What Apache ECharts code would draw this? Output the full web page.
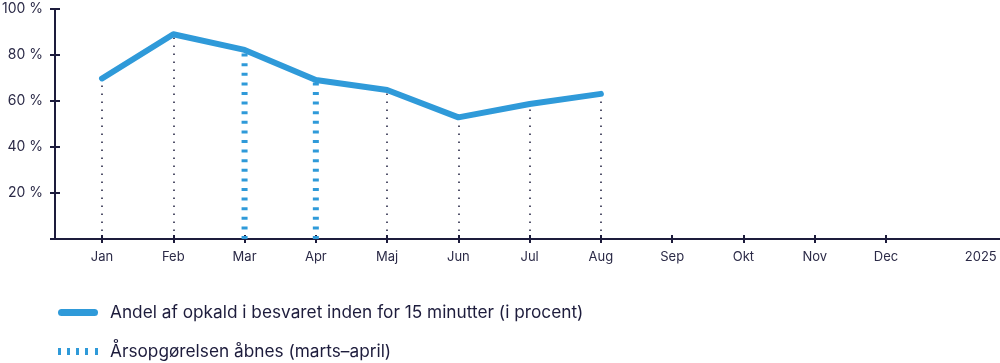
<!DOCTYPE html>
<html><head><meta charset="utf-8">
<script src="https://cdn.jsdelivr.net/npm/echarts@6/dist/echarts.min.js"></script>
<style>html,body{margin:0;padding:0;background:#fff}#c{width:1000px;height:363px}</style>
</head><body><div id="c"></div>
<script>
const months = ['Jan','Feb','Mar','Apr','Maj','Jun','Jul','Aug','Sep','Okt','Nov','Dec'];
const yearLabel = '2025';
const shareValues = [69.8, 89.0, 82.2, 69.1, 64.8, 52.9, 58.7, 63.1];
const periodMonths = [2, 3];
const seriesName = 'Andel af opkald i besvaret inden for 15 minutter (i procent)';
const periodName = 'Årsopgørelsen åbnes (marts–april)';

const BLUE = '#2f9ad9';
const NAVY = '#1d1c3c';
const TEXT = '#2b2a47';
const FONT = 'Inter';

const monthIdx = months.map((m, i) => i);
const yearPos = 12.33;

const dropLines = shareValues
  .map((v, i) => ({ v, i }))
  .filter(d => periodMonths.indexOf(d.i) < 0)
  .map(d => [{ coord: [d.i, 0] }, { coord: [d.i, d.v] }]);

const periodSeries = periodMonths.map(i => ({
  name: periodName, type: 'line', symbol: 'none', z: 2,
  data: [[i, 0], [i, shareValues[i]]],
  lineStyle: { color: BLUE, width: 6, type: [3, 6.6], cap: 'butt' },
  itemStyle: { color: BLUE },
  silent: true
}));

const ICON_SOLID = 'path://M3.5,0 H36.5 A3.5,3.5 0 0 1 36.5,7 H3.5 A3.5,3.5 0 0 1 3.5,0 Z';
const ICON_DASH = 'path://M0,0 H3 V7 H0 Z M9,0 H12 V7 H9 Z M18,0 H21 V7 H18 Z M27,0 H30 V7 H27 Z M37,0 H40 V7 H37 Z';

const chart = echarts.init(document.getElementById('c'), null, { renderer: 'canvas' });
chart.setOption({
  animation: false,
  textStyle: { fontFamily: FONT },
  grid: { left: 55, right: 0, top: 9, bottom: 124, containLabel: false, outerBoundsMode: 'none' },
  xAxis: [{
    type: 'value', min: -0.66, max: 12.6, position: 'bottom',
    axisLine: { show: true, onZero: false, lineStyle: { color: NAVY, width: 2 } },
    axisTick: { show: true, length: 4, customValues: monthIdx, lineStyle: { color: NAVY, width: 2 } },
    axisLabel: { customValues: monthIdx.concat([yearPos]), margin: 12, color: TEXT, fontSize: 13, fontFamily: FONT,
      formatter: v => (v > 11.5 ? yearLabel : months[Math.round(v)]) },
    splitLine: { show: false }
  }, {
    type: 'value', min: -0.66, max: 12.6, position: 'bottom',
    axisLine: { show: false, onZero: false },
    axisTick: { show: true, inside: true, length: 4, customValues: monthIdx, lineStyle: { color: NAVY, width: 2 } },
    axisLabel: { show: false }, splitLine: { show: false }
  }],
  yAxis: [{
    type: 'value', min: 0, max: 100, interval: 20, position: 'left',
    axisLine: { show: true, onZero: false, lineStyle: { color: NAVY, width: 2 } },
    axisTick: { show: true, length: 5, lineStyle: { color: NAVY, width: 2 } },
    axisLabel: { margin: 12, color: TEXT, fontSize: 14, fontFamily: FONT,
      formatter: v => (v === 0 ? '' : v + ' %') },
    splitLine: { show: false }
  }, {
    type: 'value', min: 0, max: 100, interval: 20, position: 'left',
    axisLine: { show: false, onZero: false },
    axisTick: { show: true, inside: true, length: 5, lineStyle: { color: NAVY, width: 2 } },
    axisLabel: { show: false }, splitLine: { show: false }
  }],
  legend: {
    orient: 'vertical', left: 53, top: 299, height: 80, itemWidth: 40, itemHeight: 7, itemGap: 22,
    textStyle: { color: NAVY, fontSize: 17.25, fontFamily: FONT, padding: [0, 0, 0, 7] },
    data: [
      { name: seriesName, icon: ICON_SOLID, itemStyle: { color: BLUE } },
      { name: periodName, icon: ICON_DASH, itemStyle: { color: BLUE } }
    ],
    selectedMode: false
  },
  series: [{
    name: '_drops', type: 'line', data: [], z: 1, silent: true,
    markLine: {
      symbol: ['none', 'none'], silent: true, label: { show: false },
      lineStyle: { color: NAVY, width: 1.5, type: [1.5, 6.5] },
      emphasis: { disabled: true },
      data: dropLines
    }
  }].concat(periodSeries).concat([{
    name: seriesName, type: 'line', symbol: 'none', z: 5,
    data: shareValues.map((v, i) => [i, v]),
    lineStyle: { color: BLUE, width: 6, cap: 'round', join: 'round' },
    itemStyle: { color: BLUE }
  }])
});
</script></body></html>
